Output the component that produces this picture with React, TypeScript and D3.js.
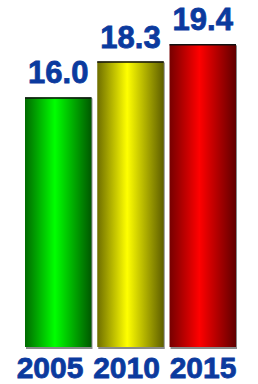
import { useEffect, useRef } from 'react';
import { scaleBand, scaleLinear, scalePoint, select } from 'd3';

const years = ['2005', '2010', '2015'];
const values = [16.0, 18.3, 19.4];
const barColors = [
  ['#006a00', '#00ff00', '#005800'],
  ['#6e6e00', '#ffff00', '#5e5e00'],
  ['#760000', '#ff0000', '#600000'],
];

const width = 258;
const height = 384;
const blue = '#0b3a9e';
const font = '"Liberation Sans", Arial, sans-serif';

const App = () => {
  const svgRef = useRef<SVGSVGElement>(null);

  useEffect(() => {
    const svg = select(svgRef.current);
    svg.selectAll('*').remove();

    const x = scaleBand<string>().domain(years).range([25, 236]).paddingInner(0.08);
    const xLabel = scalePoint<string>().domain(years).range([50, 203]);
    const y = scaleLinear().domain([0, 20]).range([347, 35]);

    const defs = svg.append('defs');
    barColors.forEach((c, i) => {
      const g = defs
        .append('linearGradient')
        .attr('id', `grad${i}`)
        .attr('x1', '0%')
        .attr('x2', '100%')
        .attr('y1', '0%')
        .attr('y2', '0%');
      g.append('stop').attr('offset', '0%').attr('stop-color', c[0]);
      g.append('stop').attr('offset', '45%').attr('stop-color', c[1]);
      g.append('stop').attr('offset', '100%').attr('stop-color', c[2]);
    });

    const bars = svg
      .selectAll('g.bar')
      .data(years)
      .join('g')
      .attr('class', 'bar');

    // shadow
    bars
      .append('rect')
      .attr('x', (d) => x(d)! + 1)
      .attr('y', (d, i) => y(values[i]) + 1)
      .attr('width', x.bandwidth())
      .attr('height', (d, i) => y(0) - y(values[i]) + 1)
      .attr('fill', '#8a8a8a');

    bars
      .append('rect')
      .attr('x', (d) => x(d)!)
      .attr('y', (d, i) => y(values[i]))
      .attr('width', x.bandwidth())
      .attr('height', (d, i) => y(0) - y(values[i]))
      .attr('fill', (d, i) => `url(#grad${i})`);

    // top edge
    bars
      .append('line')
      .attr('x1', (d) => x(d)!)
      .attr('x2', (d) => x(d)! + x.bandwidth())
      .attr('y1', (d, i) => y(values[i]) + 0.5)
      .attr('y2', (d, i) => y(values[i]) + 0.5)
      .attr('stroke', '#111')
      .attr('stroke-width', 1.5);

    bars
      .append('text')
      .attr('x', (d) => x(d)! + x.bandwidth() / 2)
      .attr('y', (d, i) => y(values[i]) - 14)
      .attr('text-anchor', 'middle')
      .attr('font-family', font)
      .attr('font-weight', 'bold')
      .attr('font-size', 31)
      .attr('fill', blue)
      .attr('stroke', blue)
      .attr('stroke-width', 0.8)
      .text((d, i) => values[i].toFixed(1));

    svg
      .selectAll('text.year')
      .data(years)
      .join('text')
      .attr('class', 'year')
      .attr('x', (d) => xLabel(d)!)
      .attr('y', 378)
      .attr('text-anchor', 'middle')
      .attr('font-family', font)
      .attr('font-weight', 'bold')
      .attr('font-size', 30)
      .attr('fill', blue)
      .attr('stroke', blue)
      .attr('stroke-width', 0.8)
      .text((d) => d);
  }, []);

  return (
    <svg
      ref={svgRef}
      width={width}
      height={height}
      style={{ position: 'absolute', left: 0, top: 0, background: '#fff' }}
    />
  );
};

export default App;
